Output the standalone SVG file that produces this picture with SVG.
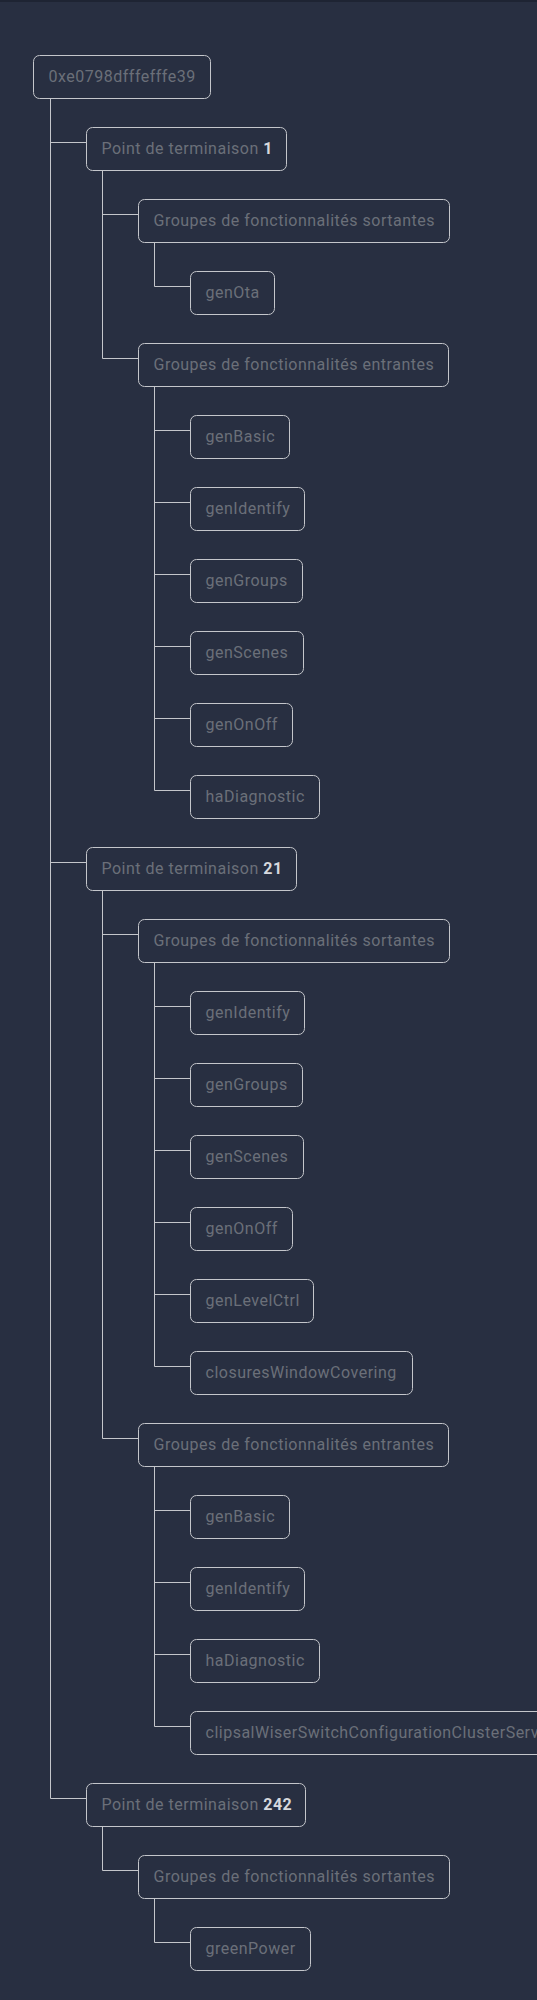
<svg xmlns="http://www.w3.org/2000/svg" width="537" height="2000" viewBox="0 0 537 2000">
<style>
.bg{fill:#282f41}
.n rect{fill:#282f41;stroke:#c4c6cb;stroke-width:1}
.n text{font-family:Roboto,"Liberation Sans",sans-serif;font-size:16px;letter-spacing:0.5px;fill:#6b6f79}
.n tspan{fill:#d6d8dd;font-weight:700}
.c path{fill:none;stroke:#c4c6cb;stroke-width:1}
</style>
<rect class="bg" x="0" y="0" width="537" height="2000"/>
<rect x="0" y="0" width="537" height="2" fill="#1e2433"/>
<g class="c" id="connectors">
<path d="M50.5 98.5V1798.5M50.5 142.5H86.5M50.5 862.5H86.5M50.5 1798.5H86.5"/>
<path d="M102.5 170.5V358.5M102.5 214.5H138.5M102.5 358.5H138.5"/>
<path d="M154.5 242.5V286.5H190.5"/>
<path d="M154.5 386.5V790.5M154.5 430.5H190.5M154.5 502.5H190.5M154.5 574.5H190.5M154.5 646.5H190.5M154.5 718.5H190.5M154.5 790.5H190.5"/>
<path d="M102.5 890.5V1438.5M102.5 934.5H138.5M102.5 1438.5H138.5"/>
<path d="M154.5 962.5V1366.5M154.5 1006.5H190.5M154.5 1078.5H190.5M154.5 1150.5H190.5M154.5 1222.5H190.5M154.5 1294.5H190.5M154.5 1366.5H190.5"/>
<path d="M154.5 1466.5V1726.5M154.5 1510.5H190.5M154.5 1582.5H190.5M154.5 1654.5H190.5M154.5 1726.5H190.5"/>
<path d="M102.5 1826.5V1870.5H138.5"/>
<path d="M154.5 1898.5V1942.5H190.5"/>
</g>
<g class="n" id="root"><rect x="33.5" y="55.5" width="177" height="43" rx="6"/><text x="48.5" y="82">0xe0798dfffefffe39</text></g>
<g class="n" id="ep1"><rect x="86.5" y="127.5" width="200" height="43" rx="6"/><text x="101.5" y="154">Point de terminaison <tspan>1</tspan></text></g>
<g class="n" id="ep1-out"><rect x="138.5" y="199.5" width="311" height="43" rx="6"/><text x="153.5" y="226">Groupes de fonctionnalités sortantes</text></g>
<g class="n" id="ep1-out-genOta"><rect x="190.5" y="271.5" width="84" height="43" rx="6"/><text x="205.5" y="298">genOta</text></g>
<g class="n" id="ep1-in"><rect x="138.5" y="343.5" width="310" height="43" rx="6"/><text x="153.5" y="370">Groupes de fonctionnalités entrantes</text></g>
<g class="n" id="ep1-in-genBasic"><rect x="190.5" y="415.5" width="99" height="43" rx="6"/><text x="205.5" y="442">genBasic</text></g>
<g class="n" id="ep1-in-genIdentify"><rect x="190.5" y="487.5" width="114" height="43" rx="6"/><text x="205.5" y="514">genIdentify</text></g>
<g class="n" id="ep1-in-genGroups"><rect x="190.5" y="559.5" width="112" height="43" rx="6"/><text x="205.5" y="586">genGroups</text></g>
<g class="n" id="ep1-in-genScenes"><rect x="190.5" y="631.5" width="113" height="43" rx="6"/><text x="205.5" y="658">genScenes</text></g>
<g class="n" id="ep1-in-genOnOff"><rect x="190.5" y="703.5" width="102" height="43" rx="6"/><text x="205.5" y="730">genOnOff</text></g>
<g class="n" id="ep1-in-haDiagnostic"><rect x="190.5" y="775.5" width="129" height="43" rx="6"/><text x="205.5" y="802">haDiagnostic</text></g>
<g class="n" id="ep21"><rect x="86.5" y="847.5" width="210" height="43" rx="6"/><text x="101.5" y="874">Point de terminaison <tspan>21</tspan></text></g>
<g class="n" id="ep21-out"><rect x="138.5" y="919.5" width="311" height="43" rx="6"/><text x="153.5" y="946">Groupes de fonctionnalités sortantes</text></g>
<g class="n" id="ep21-out-genIdentify"><rect x="190.5" y="991.5" width="114" height="43" rx="6"/><text x="205.5" y="1018">genIdentify</text></g>
<g class="n" id="ep21-out-genGroups"><rect x="190.5" y="1063.5" width="112" height="43" rx="6"/><text x="205.5" y="1090">genGroups</text></g>
<g class="n" id="ep21-out-genScenes"><rect x="190.5" y="1135.5" width="113" height="43" rx="6"/><text x="205.5" y="1162">genScenes</text></g>
<g class="n" id="ep21-out-genOnOff"><rect x="190.5" y="1207.5" width="102" height="43" rx="6"/><text x="205.5" y="1234">genOnOff</text></g>
<g class="n" id="ep21-out-genLevelCtrl"><rect x="190.5" y="1279.5" width="123" height="43" rx="6"/><text x="205.5" y="1306">genLevelCtrl</text></g>
<g class="n" id="ep21-out-closures"><rect x="190.5" y="1351.5" width="222" height="43" rx="6"/><text x="205.5" y="1378">closuresWindowCovering</text></g>
<g class="n" id="ep21-in"><rect x="138.5" y="1423.5" width="310" height="43" rx="6"/><text x="153.5" y="1450">Groupes de fonctionnalités entrantes</text></g>
<g class="n" id="ep21-in-genBasic"><rect x="190.5" y="1495.5" width="99" height="43" rx="6"/><text x="205.5" y="1522">genBasic</text></g>
<g class="n" id="ep21-in-genIdentify"><rect x="190.5" y="1567.5" width="114" height="43" rx="6"/><text x="205.5" y="1594">genIdentify</text></g>
<g class="n" id="ep21-in-haDiagnostic"><rect x="190.5" y="1639.5" width="129" height="43" rx="6"/><text x="205.5" y="1666">haDiagnostic</text></g>
<g class="n" id="ep21-in-clipsal"><rect x="190.5" y="1711.5" width="420" height="43" rx="6"/><text x="205.5" y="1738">clipsalWiserSwitchConfigurationClusterServer</text></g>
<g class="n" id="ep242"><rect x="86.5" y="1783.5" width="219" height="43" rx="6"/><text x="101.5" y="1810">Point de terminaison <tspan>242</tspan></text></g>
<g class="n" id="ep242-out"><rect x="138.5" y="1855.5" width="311" height="43" rx="6"/><text x="153.5" y="1882">Groupes de fonctionnalités sortantes</text></g>
<g class="n" id="ep242-out-greenPower"><rect x="190.5" y="1927.5" width="120" height="43" rx="6"/><text x="205.5" y="1954">greenPower</text></g>
</svg>
